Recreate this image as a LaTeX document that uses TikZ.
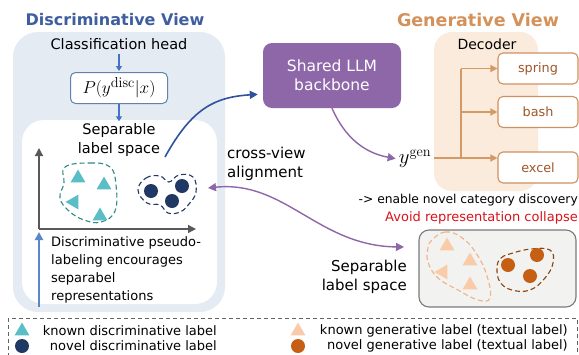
\documentclass[tikz,border=0pt]{standalone}
\usepackage[no-math]{fontspec}
\setmainfont{DejaVu Sans}
\usetikzlibrary{arrows.meta,shapes.geometric}
\definecolor{lpanel}{HTML}{E4EBF3}
\definecolor{dtitle}{HTML}{3F5E9E}
\definecolor{sblue}{HTML}{4472C4}
\definecolor{pborder}{HTML}{6480B0}
\definecolor{axgray}{HTML}{595959}
\definecolor{teal1}{HTML}{5BBDC6}
\definecolor{teal2}{HTML}{2E8B84}
\definecolor{navy}{HTML}{1F3864}
\definecolor{lblue}{HTML}{5A87C6}
\definecolor{dblue}{HTML}{2F52A0}
\definecolor{purp}{HTML}{8E67A8}
\definecolor{gtitle}{HTML}{D4915A}
\definecolor{peachpanel}{HTML}{FBEBDC}
\definecolor{orline}{HTML}{D49A66}
\definecolor{orborder}{HTML}{D09060}
\definecolor{ortext}{HTML}{A0562A}
\definecolor{redtext}{HTML}{D9121B}
\definecolor{gfill}{HTML}{F2F2F0}
\definecolor{gborder}{HTML}{7A7A7A}
\definecolor{peach}{HTML}{F9CBA8}
\definecolor{peachdash}{HTML}{F4B183}
\definecolor{orcircle}{HTML}{C65F14}
\definecolor{browndash}{HTML}{8B4513}
\begin{document}
\begin{tikzpicture}[x=1pt,y=-1pt,
  txt/.style={inner sep=0pt,font=\fontsize{13}{18}\selectfont},
  bigtxt/.style={inner sep=0pt,font=\fontsize{14.5}{19}\selectfont},
  ttl/.style={inner sep=0pt,font=\fontsize{16}{18}\selectfont\bfseries},
  tri/.style={regular polygon,regular polygon sides=3,minimum size=17pt,inner sep=0pt},
  dot/.style={circle,minimum size=14pt,inner sep=0pt},
  smallarrow/.style={sblue,line width=1.2pt,-{Triangle[width=6pt,length=5pt]}},
  axisline/.style={axgray,line width=1.3pt,-{Triangle[width=8pt,length=8pt]}},
  outbox/.style={draw=orborder,line width=1.1pt,fill=white,rounded corners=5pt,minimum width=80pt,minimum height=31pt,text=ortext,font=\fontsize{12.8}{15}\selectfont},
  orarrow/.style={orline,line width=1.4pt,-{Triangle[width=7pt,length=7pt]}},
]
\clip (0,0) rectangle (579,354);
% ---------- left panel ----------
\fill[lpanel,rounded corners=25pt] (13,32) rectangle (225,312);
\fill[white,rounded corners=22pt] (22,120) rectangle (217,304);
\node[ttl,text=dtitle] (dtitle) at (115,20) {Discriminative View};
\node[bigtxt] (clshead) at (119,44) {Classification head};
\node[draw=pborder,line width=1pt,fill=white,rounded corners=5pt,minimum width=97pt,minimum height=31pt,inner sep=0pt,font=\fontsize{19}{21}\selectfont] (pdisc) at (119,88) {$P(y^{\mathrm{disc}}|x)$};
\node[bigtxt,align=center] (seplab) at (119,140) {Separable\\label space};
\draw[smallarrow,shorten <=4pt,shorten >=1pt] (clshead) -- (pdisc);
\draw[smallarrow,shorten >=2pt] (pdisc) -- (seplab);
% axes
\coordinate (origin) at (39,229);
\coordinate (ytop) at (39,148);
\coordinate (xend) at (196,229);
\draw[axisline] (origin) -- (ytop);
\draw[axisline] (origin) -- (xend);
% teal cluster
\draw[teal2,dashed,line width=1.1pt,dash pattern=on 5pt off 3pt] plot[smooth cycle,tension=0.7] coordinates {(65,167) (90,163) (110,167) (116,185) (115,211) (101,222) (84,220) (69,211) (60,198) (64,183)};
\node[tri,fill=teal1] (kt1) at (78,178) {};
\node[tri,fill=teal1] (kt2) at (104,185) {};
\node[tri,fill=teal1,rotate=90] (kt3) at (74,202) {};
\node[tri,fill=teal1] (kt4) at (100,216) {};
% navy cluster
\draw[navy,dashed,line width=1.1pt,dash pattern=on 5pt off 3pt] plot[smooth cycle,tension=0.7] coordinates {(138,190) (146,178) (160,176) (169,182) (179,175) (193,177) (196,192) (189,204) (180,212) (168,213) (160,205) (147,203)};
\node[dot,fill=navy] (nc1) at (151,191) {};
\node[dot,fill=navy] (nc2) at (182,186) {};
\node[dot,fill=navy] (nc3) at (172,201) {};
% pseudo-labeling arrow and text
\coordinate (plbot) at (39,307);
\coordinate (pltop) at (39,232);
\draw[lblue,line width=2.2pt,-{Triangle[width=8pt,length=8pt]}] (plbot) -- (pltop);
\node[txt,align=left,anchor=north west] (pltext) at (51,236) {Discriminative pseudo-\\labeling encourages\\separabel\\representations};
% ---------- shared LLM ----------
\node[fill=purp,rounded corners=9pt,minimum width=138pt,minimum height=65pt,inner sep=0pt,text=white,align=center,font=\fontsize{15.5}{19}\selectfont] (llm) at (332,75.5) {Shared LLM\\backbone};
\coordinate (bstart) at (165,157);
\draw[dblue,line width=1.6pt,-{Triangle[width=8pt,length=8pt]},shorten >=5pt] (bstart) .. controls (192,108) and (215,97) .. (llm.195);
% ---------- generative view ----------
\fill[peachpanel,rounded corners=18pt] (434,32) rectangle (538,191);
\node[ttl,text=gtitle,font=\fontsize{17.5}{19}\selectfont\bfseries] (gtitle) at (478,20) {Generative View};
\node[inner sep=0pt,font=\fontsize{14}{16}\selectfont] (decoder) at (487,44) {Decoder};
\node[outbox] (spring) at (538,68.5) {spring};
\node[outbox] (bash) at (538,112) {bash};
\node[outbox] (excel) at (538,167.5) {excel};
\node[inner sep=1pt,font=\fontsize{22}{23}\selectfont] (ygen) at (415,159) {$y^{\mathrm{gen}}$};
\draw[purp,line width=1.4pt,-{Triangle[width=8pt,length=8pt]},shorten >=2pt] (llm.south) .. controls (345,138) and (365,153) .. (ygen.west);
\coordinate (trunk) at (461,158);
\draw[orarrow,shorten <=2pt] (ygen.east |- trunk) -- (excel.west |- trunk);
\draw[orline,line width=1.4pt] (trunk) -- (trunk |- spring.west);
\draw[orarrow] (trunk |- spring.west) -- (spring.west);
\draw[orarrow] (trunk |- bash.west) -- (bash.west);
\node[txt,anchor=east,font=\fontsize{12.3}{15}\selectfont] (enable) at (578,200) {-> enable novel category discovery};
\node[txt,anchor=east,text=redtext] (avoid) at (578,218) {Avoid representation collapse};
% ---------- generative label space ----------
\node[draw=gborder,line width=1.1pt,fill=gfill,rounded corners=10pt,minimum width=157pt,minimum height=77pt,inner sep=0pt] (gbox) at (497.5,268.5) {};
\draw[peachdash,dashed,line width=1.1pt,dash pattern=on 5pt off 3pt] plot[smooth cycle,tension=0.7] coordinates {(432,240) (445,232) (461,237) (476,253) (487,276) (490,298) (478,300) (458,290) (438,278) (428,262) (428,248)};
\node[tri,fill=peach] (gt1) at (447,246) {};
\node[tri,fill=peach] (gt2) at (470,261) {};
\node[tri,fill=peach,rotate=90] (gt3) at (443,272) {};
\node[tri,fill=peach] (gt4) at (470,285) {};
\draw[browndash,dashed,line width=1.1pt,dash pattern=on 5pt off 3pt] plot[smooth cycle,tension=0.7] coordinates {(497,268) (501,258) (513,253) (531,249) (550,250) (553,263) (545,278) (530,290) (512,290) (500,282)};
\node[dot,fill=orcircle] (oc1) at (508,265) {};
\node[dot,fill=orcircle] (oc2) at (537,255) {};
\node[dot,fill=orcircle] (oc3) at (530,276) {};
\node[inner sep=0pt,font=\fontsize{15}{19}\selectfont,align=right,anchor=east] (gseplab) at (407,277) {Separable\\label space};
% cross-view alignment
\node[inner sep=0pt,font=\fontsize{15}{18.5}\selectfont,align=left,anchor=west] (cva) at (227,164) {cross-view\\alignment};
\coordinate (cvL) at (208,188);
\coordinate (cvR) at (404,247);
\draw[purp,line width=1.4pt,{Triangle[width=8pt,length=8pt]}-{Triangle[width=8pt,length=8pt]}] (cvL) .. controls (285,180) and (318,246) .. (cvR);
% ---------- legend ----------
\draw[gborder!80!black,line width=0.9pt,dashed,dash pattern=on 4pt off 3pt] (8,318) rectangle (577,362);
\node[tri,fill=teal1] (lg1) at (22,331) {};
\node[dot,fill=navy] (lg2) at (22,346) {};
\node[txt,anchor=east] (lt1) at (217,331) {known discriminative label};
\node[txt,anchor=east] (lt2) at (217,346) {novel discriminative label};
\node[tri,fill=peach] (lg3) at (298,331) {};
\node[dot,fill=orcircle] (lg4) at (298,346) {};
\node[txt,anchor=east] (lt3) at (568,331) {known generative label (textual label)};
\node[txt,anchor=east] (lt4) at (568,346) {novel generative label (textual label)};
\end{tikzpicture}
\end{document}
